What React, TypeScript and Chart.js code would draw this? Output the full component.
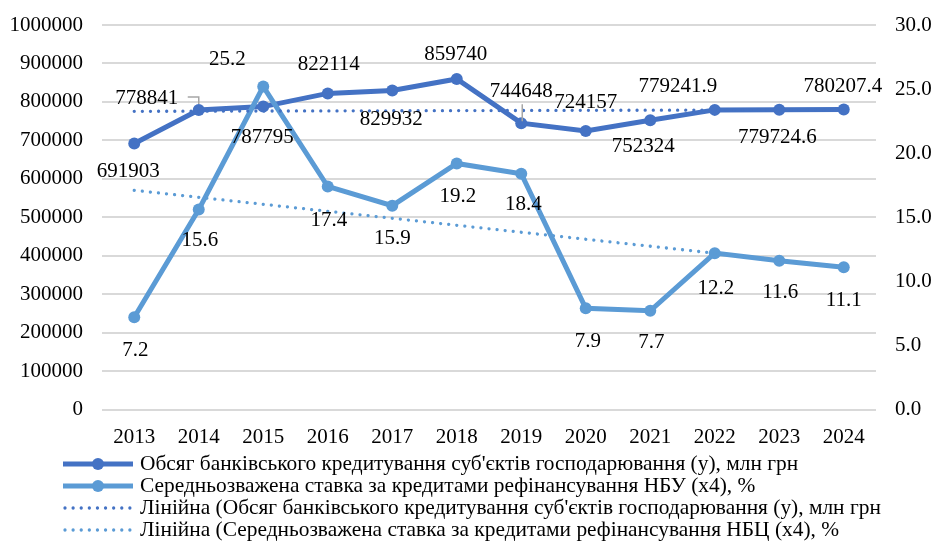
import React, { useEffect, useRef } from "react";
import { Chart, registerables } from "chart.js";

Chart.register(...registerables);

const years = ["2013", "2014", "2015", "2016", "2017", "2018", "2019", "2020", "2021", "2022", "2023", "2024"];
const lending = [691903, 778841, 787795, 822114, 829932, 859740, 744648, 724157, 752324, 779241.9, 779724.6, 780207.4];
const lendingLabels = ["691903", "778841", "787795", "822114", "829932", "859740", "744648", "724157", "752324", "779241.9", "779724.6", "780207.4"];
const rate = [7.2, 15.6, 25.2, 17.4, 15.9, 19.2, 18.4, 7.9, 7.7, 12.2, 11.6, 11.1];
const rateLabels = ["7.2", "15.6", "25.2", "17.4", "15.9", "19.2", "18.4", "7.9", "7.7", "12.2", "11.6", "11.1"];
// linear trend lines, read at first and last year
const lendingTrend = [775500, null, null, null, null, null, null, null, null, null, null, 779500];
const rateTrend = [17.1, null, null, null, null, null, null, null, null, null, null, 11.1];

const legendTexts = [
  "Обсяг банківського кредитування суб'єктів господарювання (у), млн грн",
  "Середньозважена ставка за кредитами рефінансування НБУ (x4), %",
  "Лінійна (Обсяг банківського кредитування суб'єктів господарювання (у), млн грн",
  "Лінійна (Середньозважена ставка за кредитами рефінансування НБЦ (x4), %",
];

const DARK = "#4472C4";
const LIGHT = "#5B9BD5";
const FONT_FAMILY = "'Liberation Serif', 'Times New Roman', serif";
const FONT_SIZE = 21;
const FONT = `${FONT_SIZE}px ${FONT_FAMILY}`;
const LEGEND_FONT = `21.4px ${FONT_FAMILY}`;
const DOT_DASH = [0.01, 8.1];

// label offsets relative to the point (style only)
const lendingOffsets: [number, number][] = [
  [-6, 28], [-52, -12], [-1, 31], [1, -29], [-1, 29], [-1, -24],
  [0, -32], [0, -29], [-7, 26], [-37, -23], [-2, 28], [-1, -23],
];
const rateOffsets: [number, number][] = [
  [1, 33], [1, 31], [-36, -27], [1, 34], [0, 33], [1, 33],
  [2, 31], [2, 33], [1, 32], [1, 35], [1, 32], [0, 33],
];

const labelPlugin = {
  id: "valueLabels",
  afterDatasetsDraw(chart: any) {
    const ctx = chart.ctx as CanvasRenderingContext2D;
    const m0 = chart.getDatasetMeta(0);
    const m1 = chart.getDatasetMeta(1);
    ctx.save();
    // leader lines
    ctx.strokeStyle = "#a6a6a6";
    ctx.lineWidth = 1.5;
    const p1 = m0.data[1];
    ctx.beginPath();
    ctx.moveTo(p1.x - 11, p1.y - 13);
    ctx.lineTo(p1.x, p1.y - 13);
    ctx.lineTo(p1.x, p1.y - 6);
    ctx.stroke();
    const p6 = m0.data[6];
    ctx.beginPath();
    ctx.moveTo(p6.x + 1, p6.y - 19);
    ctx.lineTo(p6.x + 1, p6.y - 2);
    ctx.stroke();

    ctx.font = FONT;
    ctx.fillStyle = "#000";
    ctx.textAlign = "center";
    ctx.textBaseline = "middle";
    m0.data.forEach((pt: any, i: number) => {
      const [dx, dy] = lendingOffsets[i];
      ctx.fillText(lendingLabels[i], pt.x + dx, pt.y + dy);
    });
    m1.data.forEach((pt: any, i: number) => {
      const [dx, dy] = rateOffsets[i];
      ctx.fillText(rateLabels[i], pt.x + dx, pt.y + dy);
    });
    ctx.restore();
  },
};

const legendPlugin = {
  id: "customLegend",
  afterDraw(chart: any) {
    const ctx = chart.ctx as CanvasRenderingContext2D;
    const x0 = 63;
    const x1 = 133;
    const rows = [464, 486, 508, 530];
    const colors = [DARK, LIGHT, DARK, LIGHT];
    ctx.save();
    rows.forEach((y, i) => {
      ctx.strokeStyle = colors[i];
      ctx.fillStyle = colors[i];
      if (i < 2) {
        ctx.lineWidth = 5;
        ctx.lineCap = "butt";
        ctx.setLineDash([]);
        ctx.beginPath();
        ctx.moveTo(x0, y);
        ctx.lineTo(x1, y);
        ctx.stroke();
        ctx.beginPath();
        ctx.arc((x0 + x1) / 2, y, 6, 0, Math.PI * 2);
        ctx.fill();
      } else {
        ctx.lineWidth = 3.3;
        ctx.lineCap = "round";
        ctx.setLineDash(DOT_DASH);
        ctx.beginPath();
        ctx.moveTo(x0 + 2, y);
        ctx.lineTo(x1, y);
        ctx.stroke();
      }
      ctx.setLineDash([]);
      ctx.fillStyle = "#000";
      ctx.font = LEGEND_FONT;
      ctx.textAlign = "left";
      ctx.textBaseline = "middle";
      ctx.fillText(legendTexts[i], 140, y);
    });
    ctx.restore();
  },
};

export default function App() {
  const ref = useRef<HTMLCanvasElement | null>(null);
  useEffect(() => {
    if (!ref.current) return;
    const tickFont = { family: FONT_FAMILY, size: FONT_SIZE };
    const chart = new Chart(ref.current, {
      type: "line",
      data: {
        labels: years,
        datasets: [
          {
            label: legendTexts[0],
            data: lending,
            yAxisID: "y",
            borderColor: DARK,
            backgroundColor: DARK,
            borderWidth: 5,
            pointRadius: 6,
            pointBorderWidth: 0,
            pointBackgroundColor: DARK,
            tension: 0,
            order: 3,
          },
          {
            label: legendTexts[1],
            data: rate,
            yAxisID: "y1",
            borderColor: LIGHT,
            backgroundColor: LIGHT,
            borderWidth: 5,
            pointRadius: 6,
            pointBorderWidth: 0,
            pointBackgroundColor: LIGHT,
            tension: 0,
            order: 2,
          },
          {
            label: legendTexts[2],
            data: lendingTrend,
            yAxisID: "y",
            borderColor: DARK,
            borderWidth: 3.3,
            borderDash: DOT_DASH,
            borderCapStyle: "round",
            pointRadius: 0,
            spanGaps: true,
            order: 1,
          },
          {
            label: legendTexts[3],
            data: rateTrend,
            yAxisID: "y1",
            borderColor: LIGHT,
            borderWidth: 3.3,
            borderDash: DOT_DASH,
            borderCapStyle: "round",
            pointRadius: 0,
            spanGaps: true,
            order: 1,
          },
        ],
      } as any,
      options: {
        responsive: false,
        animation: false,
        layout: { padding: { top: 25, left: 0, right: 0, bottom: 0 } },
        plugins: {
          legend: { display: false },
          tooltip: { enabled: false },
          title: { display: false },
        },
        scales: {
          x: {
            offset: true,
            grid: { display: false, drawTicks: false },
            border: { display: false },
            ticks: { font: tickFont, color: "#000", padding: 15, maxRotation: 0, autoSkip: false },
            afterFit: (s: any) => { s.height = 133.5; s.paddingLeft = 0; s.paddingRight = 0; },
          },
          y: {
            position: "left",
            min: 0,
            max: 1000000,
            grid: { color: "#d9d9d9", lineWidth: 2, drawTicks: false },
            border: { display: false },
            ticks: {
              stepSize: 100000,
              font: tickFont,
              color: "#000",
              padding: 19,
              callback: (v: any) => String(v),
            },
            afterFit: (s: any) => { s.width = 102; s.paddingTop = 0; s.paddingBottom = 0; },
          },
          y1: {
            position: "right",
            min: 0,
            max: 30,
            grid: { display: false, drawTicks: false },
            border: { display: false },
            ticks: {
              stepSize: 5,
              font: tickFont,
              color: "#000",
              padding: 19,
              callback: (v: any) => Number(v).toFixed(1),
            },
            afterFit: (s: any) => { s.width = 59; s.paddingTop = 0; s.paddingBottom = 0; },
          },
        },
      } as any,
      plugins: [labelPlugin, legendPlugin],
    });
    return () => chart.destroy();
  }, []);
  return (
    <canvas
      ref={ref}
      width={935}
      height={543}
      style={{ position: "absolute", left: 0, top: 0, display: "block", background: "#fff" }}
    />
  );
}
